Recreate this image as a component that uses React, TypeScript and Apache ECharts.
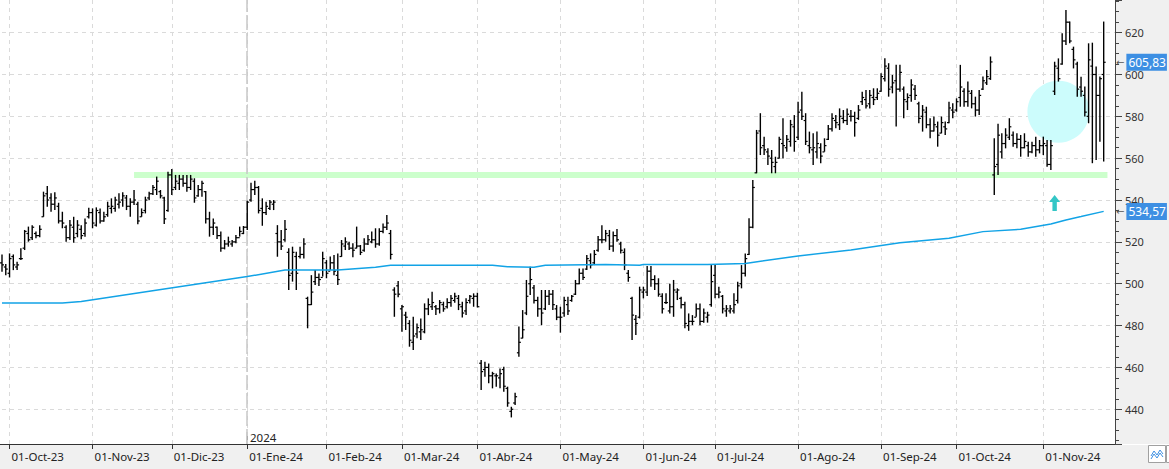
import React, { useEffect, useRef } from 'react';
import * as echarts from 'echarts';

// ---- calendar (trading days per month) ----
const monthLabels = ['Sep-23', 'Oct-23', 'Nov-23', 'Dic-23', 'Ene-24', 'Feb-24', 'Mar-24', 'Abr-24', 'May-24', 'Jun-24', 'Jul-24', 'Ago-24', 'Sep-24', 'Oct-24', 'Nov-24'];
const monthDays = [2, 22, 21, 20, 21, 20, 20, 22, 22, 19, 22, 22, 20, 23, 17];
const emptySlots = 3;
const yearStartIndex = 65;
const yearLabel = '2024';

// ---- OHLC values ----
const opens = [
  510, 508, 505, 513, 508, 512, 517, 524, 522, 524,
  523, 532, 543, 541, 538, 537, 530, 527, 522, 527,
  524, 526, 524, 532, 534, 528, 534, 530, 533, 536,
  536, 538, 540, 541, 537, 539, 538, 532, 535, 541,
  543, 545, 544, 541, 535, 552, 546, 548, 550, 548,
  546, 549, 542, 545, 544, 531, 527, 527, 523, 517,
  519, 519, 520, 522, 524, 527, 540, 545, 546, 536,
  534, 536, 538, 524, 520, 521, 515, 505, 513, 513,
  514, 493, 490, 501, 503, 503, 510, 506, 510, 504,
  513, 518, 519, 517, 517, 518, 516, 519, 520, 521,
  519, 525, 527, 524, 497, 499, 488, 485, 481, 472,
  476, 477, 477, 488, 489, 489, 488, 490, 489, 491,
  492, 493, 489, 487, 492, 493, 494, 462, 459, 460,
  456, 456, 455, 459, 450, 439, 443, 467, 474, 486,
  500, 498, 492, 488, 488, 494, 495, 488, 484, 486,
  490, 492, 495, 500, 505, 507, 511, 510, 516, 521,
  521, 523, 518, 523, 519, 515, 505, 493, 483, 484,
  496, 496, 506, 502, 500, 494, 491, 487, 489, 496,
  493, 490, 480, 482, 484, 488, 482, 484, 490, 504,
  495, 494, 487, 487, 487, 492, 500, 505, 514, 527,
  553, 573, 566, 563, 560, 556, 560, 567, 565, 568,
  575, 570, 583, 578, 566, 564, 563, 565, 563, 569,
  574, 578, 576, 579, 578, 580, 580, 579, 587, 588,
  586, 589, 589, 592, 598, 603, 594, 597, 593, 593,
  587, 590, 593, 586, 580, 582, 576, 573, 575, 572,
  575, 577, 583, 583, 589, 592, 587, 591, 586, 583,
  593, 596, 598, 552, 557, 563, 567, 570, 571, 567,
  569, 565, 566, 563, 566, 564, 566, 566, 557, 592,
  603, 605, 616, 625, 612, 605, 594, 590, 580, 604,
  600, 590, 600,
];
const highs = [
  514.0, 509.4, 514.5, 514.0, 510.5, 516.9, 525.7, 527.3, 528.0, 524.9,
  528.0, 544.0, 546.7, 543.2, 543.7, 538.7, 534.4, 528.0, 530.4, 532.0,
  530.4, 528.0, 531.2, 536.3, 536.0, 536.5, 536.0, 534.4, 539.2, 540.8,
  541.6, 543.2, 543.7, 542.4, 540.8, 544.8, 539.2, 536.0, 541.6, 544.0,
  547.2, 551.2, 544.8, 541.6, 553.5, 554.8, 552.0, 552.0, 552.0, 552.0,
  552.0, 550.4, 547.2, 549.2, 544.3, 534.4, 531.2, 527.3, 524.9, 520.9,
  522.5, 520.9, 523.3, 527.3, 527.6, 539.7, 548.3, 549.2, 546.7, 540.8,
  539.2, 540.0, 540.0, 528.0, 525.7, 530.4, 516.9, 517.7, 515.3, 517.7,
  521.7, 493.8, 504.1, 506.5, 504.9, 515.3, 511.3, 513.0, 513.7, 514.5,
  520.9, 522.2, 520.1, 519.3, 527.3, 518.5, 521.7, 523.3, 524.9, 526.5,
  526.5, 528.8, 532.8, 525.7, 498.3, 501.3, 489.8, 486.6, 482.6, 484.2,
  481.0, 483.4, 490.6, 493.0, 496.2, 489.8, 492.2, 491.4, 493.0, 494.6,
  495.7, 494.6, 491.4, 493.0, 494.6, 495.4, 495.7, 463.5, 462.7, 461.9,
  457.9, 457.1, 459.5, 460.3, 450.8, 441.2, 447.9, 479.5, 487.4, 501.8,
  508.1, 499.4, 493.8, 497.0, 497.0, 497.0, 497.0, 489.8, 489.0, 493.8,
  493.8, 494.6, 501.8, 507.3, 507.3, 513.7, 514.5, 516.1, 522.8, 528.0,
  525.7, 525.7, 524.9, 526.1, 520.1, 516.9, 506.5, 493.8, 485.0, 498.6,
  498.6, 508.5, 508.5, 504.1, 502.6, 495.4, 495.4, 500.0, 501.8, 497.8,
  493.8, 491.4, 485.8, 485.0, 490.6, 490.6, 488.2, 486.6, 508.9, 508.9,
  498.6, 494.6, 489.8, 489.8, 495.4, 501.0, 508.9, 514.5, 531.3, 549.6,
  573.5, 581.5, 570.3, 564.7, 563.9, 560.7, 570.3, 579.1, 571.1, 578.3,
  580.6, 587.0, 591.8, 581.5, 572.7, 571.9, 572.7, 567.1, 569.5, 575.9,
  581.5, 580.6, 583.8, 583.0, 583.8, 583.0, 582.2, 585.4, 591.8, 592.6,
  592.6, 593.4, 593.4, 600.6, 607.8, 605.4, 599.8, 604.6, 604.6, 594.2,
  591.0, 597.7, 595.0, 587.0, 585.4, 584.6, 579.1, 579.9, 577.5, 579.9,
  577.5, 587.0, 586.2, 588.6, 604.6, 593.4, 596.6, 592.6, 589.4, 592.6,
  599.0, 602.2, 608.6, 569.5, 576.4, 571.9, 574.3, 579.1, 572.7, 571.9,
  571.1, 571.9, 567.9, 567.9, 570.3, 568.7, 570.3, 568.7, 568.7, 606.1,
  607.7, 619.7, 630.8, 625.3, 613.3, 606.1, 598.9, 594.2, 614.9, 615.2,
  603.8, 599.0, 625.3,
];
const lows = [
  505.7, 504.1, 503.0, 506.5, 506.5, 511.3, 516.1, 520.1, 520.9, 521.7,
  522.2, 532.0, 536.8, 534.4, 535.2, 528.8, 526.5, 520.1, 520.9, 519.6,
  522.2, 521.2, 522.5, 531.2, 526.5, 527.3, 528.8, 529.6, 532.0, 533.6,
  534.4, 536.0, 536.8, 535.2, 532.0, 537.6, 528.4, 532.0, 533.6, 540.0,
  542.4, 542.4, 540.8, 528.5, 534.4, 542.4, 544.8, 544.8, 546.4, 544.0,
  544.8, 538.7, 541.6, 541.6, 528.8, 522.5, 523.3, 521.4, 515.3, 516.4,
  517.7, 517.7, 519.3, 522.5, 523.7, 525.7, 539.2, 542.4, 533.6, 527.7,
  532.8, 535.2, 535.2, 512.9, 516.1, 520.1, 497.0, 501.0, 497.0, 512.1,
  512.1, 478.7, 489.8, 499.4, 498.9, 503.4, 502.6, 506.5, 504.1, 499.4,
  512.9, 516.1, 516.1, 512.6, 516.9, 513.7, 515.3, 518.5, 519.3, 517.2,
  518.2, 524.1, 525.7, 511.6, 484.2, 493.5, 477.1, 477.9, 469.9, 468.3,
  473.9, 473.1, 476.3, 485.0, 487.4, 485.0, 485.8, 486.6, 488.2, 489.0,
  490.9, 487.4, 483.9, 485.0, 490.6, 489.0, 488.7, 449.2, 455.6, 452.4,
  450.0, 450.8, 450.0, 448.4, 441.2, 436.1, 442.0, 465.1, 473.9, 485.0,
  494.6, 490.6, 484.2, 480.2, 487.4, 489.8, 487.4, 482.6, 476.6, 484.2,
  485.0, 491.4, 494.6, 499.8, 501.8, 506.5, 507.3, 508.9, 515.3, 519.3,
  520.1, 516.1, 515.3, 520.1, 514.5, 506.5, 501.0, 473.1, 475.5, 483.4,
  493.0, 494.1, 498.6, 497.0, 493.8, 485.8, 490.3, 485.8, 484.2, 492.2,
  488.2, 478.7, 477.5, 480.2, 484.2, 480.2, 481.4, 481.4, 489.0, 493.0,
  493.0, 485.8, 484.2, 485.8, 485.8, 490.6, 497.8, 503.4, 513.7, 526.5,
  552.8, 561.5, 561.5, 556.7, 552.8, 552.8, 559.9, 559.9, 563.1, 565.5,
  563.1, 568.7, 578.3, 566.3, 562.3, 556.7, 559.9, 557.6, 563.1, 568.7,
  572.7, 574.3, 573.5, 576.7, 575.9, 577.5, 570.3, 578.3, 585.4, 583.8,
  583.8, 585.4, 587.8, 591.8, 596.6, 589.4, 591.0, 575.1, 591.8, 579.1,
  583.0, 587.0, 587.8, 576.7, 572.7, 574.3, 569.5, 572.7, 565.5, 571.9,
  571.1, 576.7, 579.1, 582.2, 584.6, 584.6, 584.6, 583.8, 579.9, 580.6,
  592.6, 595.0, 597.4, 542.4, 552.0, 559.9, 564.7, 568.7, 565.5, 564.7,
  560.7, 564.7, 560.7, 562.3, 560.7, 562.3, 561.5, 555.9, 554.4, 590.2,
  596.6, 604.6, 614.1, 614.9, 602.9, 589.4, 589.4, 579.9, 576.7, 557.6,
  559.1, 567.9, 558.4,
];
const closes = [
  509, 507, 512, 509, 509, 512, 525, 521, 527, 523,
  526, 542, 540, 538, 541, 530, 529, 522, 528, 522,
  528, 523, 529, 534, 529, 535, 530, 532, 537, 537,
  540, 539, 542, 537, 539, 540, 530, 534, 540, 543,
  546, 549, 542, 531, 552, 545, 549, 550, 548, 546,
  550, 541, 545, 548, 531, 527, 529, 523, 517, 519,
  520, 520, 522, 525, 527, 539, 545, 546, 535, 534,
  537, 539, 539, 520, 518, 526, 504, 515, 505, 514,
  519, 490, 496, 503, 502, 512, 505, 510, 506, 502,
  519, 520, 517, 516, 518, 515, 519, 521, 521, 519,
  525, 527, 529, 514, 495, 495, 489, 484, 473, 475,
  479, 478, 488, 490, 491, 488, 491, 488, 491, 493,
  494, 490, 486, 491, 494, 494, 489, 458, 460, 456,
  457, 456, 457, 451, 443, 440, 446, 472, 478, 494,
  502, 492, 488, 486, 494, 495, 490, 484, 484, 492,
  487, 494, 500, 505, 503, 512, 509, 514, 521, 521,
  524, 518, 523, 521, 516, 509, 503, 485, 481, 497,
  497, 506, 502, 500, 495, 488, 491, 489, 497, 497,
  490, 481, 482, 482, 488, 482, 486, 485, 501, 495,
  496, 488, 488, 488, 490, 499, 505, 512, 527, 546,
  572, 565, 564, 561, 558, 558, 569, 566, 569, 576,
  568, 582, 580, 568, 565, 565, 567, 561, 566, 574,
  579, 577, 580, 578, 581, 580, 577, 583, 589, 585,
  590, 588, 591, 599, 604, 593, 596, 593, 601, 588,
  589, 595, 590, 579, 583, 576, 573, 576, 571, 577,
  574, 584, 582, 587, 594, 587, 592, 586, 583, 590,
  597, 599, 606, 556, 571, 567, 571, 575, 567, 569,
  565, 568, 563, 566, 564, 566, 567, 557, 566, 604,
  598, 616, 625, 616, 607, 593, 592, 582, 607, 600,
  590, 598, 605.83,
];

// ---- moving average (read at its breakpoints) ----
const maIndex = [0, 16, 21, 65, 75, 89, 99, 103, 130, 134, 141, 144, 160, 169, 170, 187, 197, 211, 225, 238, 251, 260, 270, 278, 282, 286, 292];
const maValue = [490.8, 490.8, 491.5, 503.4, 506.6, 506.6, 507.9, 508.8, 508.8, 508.1, 507.9, 508.8, 509.2, 508.8, 509.2, 509.2, 509.7, 513.3, 516.1, 519.6, 521.7, 524.9, 526.0, 528.5, 530.5, 532.1, 534.57];

// ---- annotations ----
const supportLevel = 552;
const supportFrom = 35;
const supportTo = 293;
const circleAt = [280, 582.2];
const arrowAt = [279, 538.6];
const lastClose = 605.83;
const lastMA = 534.57;
const yMin = 423.4;
const yMax = 635.6;

const categories: string[] = [];
const monthStart: Record<number, string> = {};
{
  let k = 0;
  monthLabels.forEach((m, mi) => {
    for (let d = 0; d < monthDays[mi]; d++) {
      if (d === 0 && mi > 0) monthStart[k] = '01-' + m;
      categories.push(m + '#' + d);
      k++;
    }
  });
  for (let e = 0; e < emptySlots; e++) categories.push('pad#' + e);
}

const fmt = (v: number) => v.toFixed(2).replace('.', ',');
const FONT = "'Noto Sans', 'DejaVu Sans', sans-serif";

export default function App() {
  const ref = useRef<HTMLDivElement>(null);
  useEffect(() => {
    document.body.style.margin = '0';
    if (!ref.current) return;
    const chart = echarts.init(ref.current, undefined, { renderer: 'svg' });
    const ohlc = opens.map((o, i) => [i, o, highs[i], lows[i], closes[i]]);
    const isMonth = (i: number) => monthStart[i] !== undefined;
    const priceLabel = (v: number) => ({
      yAxis: v,
      lineStyle: { color: 'rgba(0,0,0,0)', width: 0 },
      label: {
        show: true,
        position: 'end',
        distance: 1,
        formatter: '{a|←}{b|' + fmt(v) + '}',
        rich: {
          a: { color: '#555', fontSize: 10, fontFamily: 'DejaVu Sans', padding: [0, 2, 0, 0] },
          b: { color: '#fff', backgroundColor: '#3d8fe3', fontSize: 12, fontFamily: FONT, padding: [3, 1, 2, 2] },
        },
      },
    });
    chart.setOption({
      animation: false,
      backgroundColor: '#ffffff',
      grid: { left: 2, right: 54, top: 0, bottom: 25, containLabel: false },
      xAxis: {
        type: 'category',
        data: categories,
        boundaryGap: false,
        axisLine: { show: true, lineStyle: { color: '#333', width: 1 } },
        axisTick: { show: true, interval: (i: number) => isMonth(i), length: 5, lineStyle: { color: '#333' } },
        axisLabel: {
          interval: (i: number) => isMonth(i),
          formatter: (_v: string, i: number) => monthStart[i] || '',
          align: 'left',
          margin: 6,
          padding: [0, 0, 0, 2],
          color: '#222',
          fontSize: 11.5,
          fontFamily: FONT,
        },
        splitLine: { show: true, interval: (i: number) => isMonth(i), lineStyle: { color: '#dadada', type: [4, 4] } },
      },
      yAxis: {
        type: 'value',
        position: 'right',
        min: yMin,
        max: yMax,
        splitNumber: 10,
        axisLine: { show: true, lineStyle: { color: '#444' } },
        axisTick: { show: true, length: 7, lineStyle: { color: '#444' } },
        minorTick: { show: true, splitNumber: 4, length: 4, lineStyle: { color: '#444' } },
        axisLabel: { color: '#333', fontSize: 11, fontFamily: FONT, margin: 10, showMinLabel: false, showMaxLabel: false },
        splitLine: { show: true, showMinLine: false, showMaxLine: false, lineStyle: { color: '#dadada', type: [4, 4] } },
      },
      graphic: [
        { type: 'rect', z: -10, shape: { x: 1115, y: 0, width: 54, height: 444 }, style: { fill: '#f0f0f0' } },
        { type: 'rect', z: -10, shape: { x: 0, y: 445, width: 1169, height: 24 }, style: { fill: '#f0f0f0' } },
        { type: 'line', shape: { x1: 0, y1: 444.5, x2: 3, y2: 444.5 }, style: { stroke: '#333', lineWidth: 1 } },
        { type: 'line', shape: { x1: 247.3, y1: 432, x2: 247.3, y2: 444 }, style: { stroke: '#333', lineWidth: 1 } },
        { type: 'text', x: 250, y: 431, style: { text: yearLabel, font: '11.5px ' + FONT, fill: '#222' } },
        { type: 'rect', shape: { x: 1148.5, y: 445.5, width: 17, height: 17 }, style: { fill: '#fff', stroke: '#a0a0a0', lineWidth: 1 } },
        { type: 'polyline', shape: { points: [[1151, 456], [1154, 451], [1157, 455], [1160, 450], [1163, 454]] }, style: { stroke: '#3d8fe3', fill: 'none', lineWidth: 1 } },
        { type: 'polyline', shape: { points: [[1151, 459], [1154, 454], [1157, 458], [1160, 453], [1163, 457]] }, style: { stroke: '#3d8fe3', fill: 'none', lineWidth: 1 } },
        { type: 'rect', shape: { x: 1166.5, y: 445.5, width: 6, height: 17 }, style: { fill: '#fff', stroke: '#a0a0a0', lineWidth: 1 } },
      ],
      series: [
        {
          name: 'annot',
          type: 'line',
          data: [],
          z: 1,
          clip: false,
          silent: true,
          markLine: {
            silent: true,
            z: 1,
            symbol: ['none', 'none'],
            label: { show: false },
            data: [
              [
                { coord: [supportFrom, supportLevel], lineStyle: { color: '#ccffcc', width: 6, type: 'solid' } },
                { coord: [supportTo, supportLevel] },
              ],
              { xAxis: yearStartIndex, lineStyle: { color: '#c8c8c8', width: 1.5, type: [15, 3] } },
            ],
          },
          markPoint: {
            silent: true,
            z: 1,
            label: { show: false },
            data: [
              { coord: circleAt, symbol: 'circle', symbolSize: 62, itemStyle: { color: '#ccfcfc' } },
              {
                coord: arrowAt,
                symbol: 'path://M5,0 L10,7 L7,7 L7,16 L3,16 L3,7 L0,7 Z',
                symbolSize: [11, 16],
                itemStyle: { color: '#33c6c6' },
              },
            ],
          },
        },
        {
          name: 'ohlc',
          type: 'custom',
          z: 3,
          silent: true,
          clip: false,
          data: ohlc,
          encode: { x: 0, y: [1, 2, 3, 4] },
          renderItem: (_p: any, api: any) => {
            const i = api.value(0);
            const pO = api.coord([i, api.value(1)]);
            const pH = api.coord([i, api.value(2)]);
            const pL = api.coord([i, api.value(3)]);
            const pC = api.coord([i, api.value(4)]);
            const x = pH[0];
            return {
              type: 'group',
              children: [
                { type: 'line', shape: { x1: x, y1: pH[1], x2: x, y2: pL[1] }, style: { stroke: '#000', lineWidth: 1.4 } },
                { type: 'line', shape: { x1: x - 2, y1: pO[1], x2: x, y2: pO[1] }, style: { stroke: '#000', lineWidth: 1.2 } },
                { type: 'line', shape: { x1: x, y1: pC[1], x2: x + 2, y2: pC[1] }, style: { stroke: '#000', lineWidth: 1.2 } },
              ],
            };
          },
        },
        {
          name: 'MA',
          type: 'line',
          z: 4,
          silent: true,
          showSymbol: false,
          symbol: 'none',
          data: maIndex.map((x, k) => [x, maValue[k]]),
          lineStyle: { color: '#12a3e6', width: 1.5 },
        },
        {
          name: 'labels',
          type: 'line',
          z: 6,
          data: [],
          clip: false,
          silent: true,
          markLine: {
            silent: true,
            z: 6,
            symbol: ['none', 'none'],
            data: [priceLabel(lastClose), priceLabel(lastMA)],
          },
        },
      ],
    });
    return () => chart.dispose();
  }, []);
  return <div ref={ref} style={{ width: 1169, height: 469 }} />;
}
